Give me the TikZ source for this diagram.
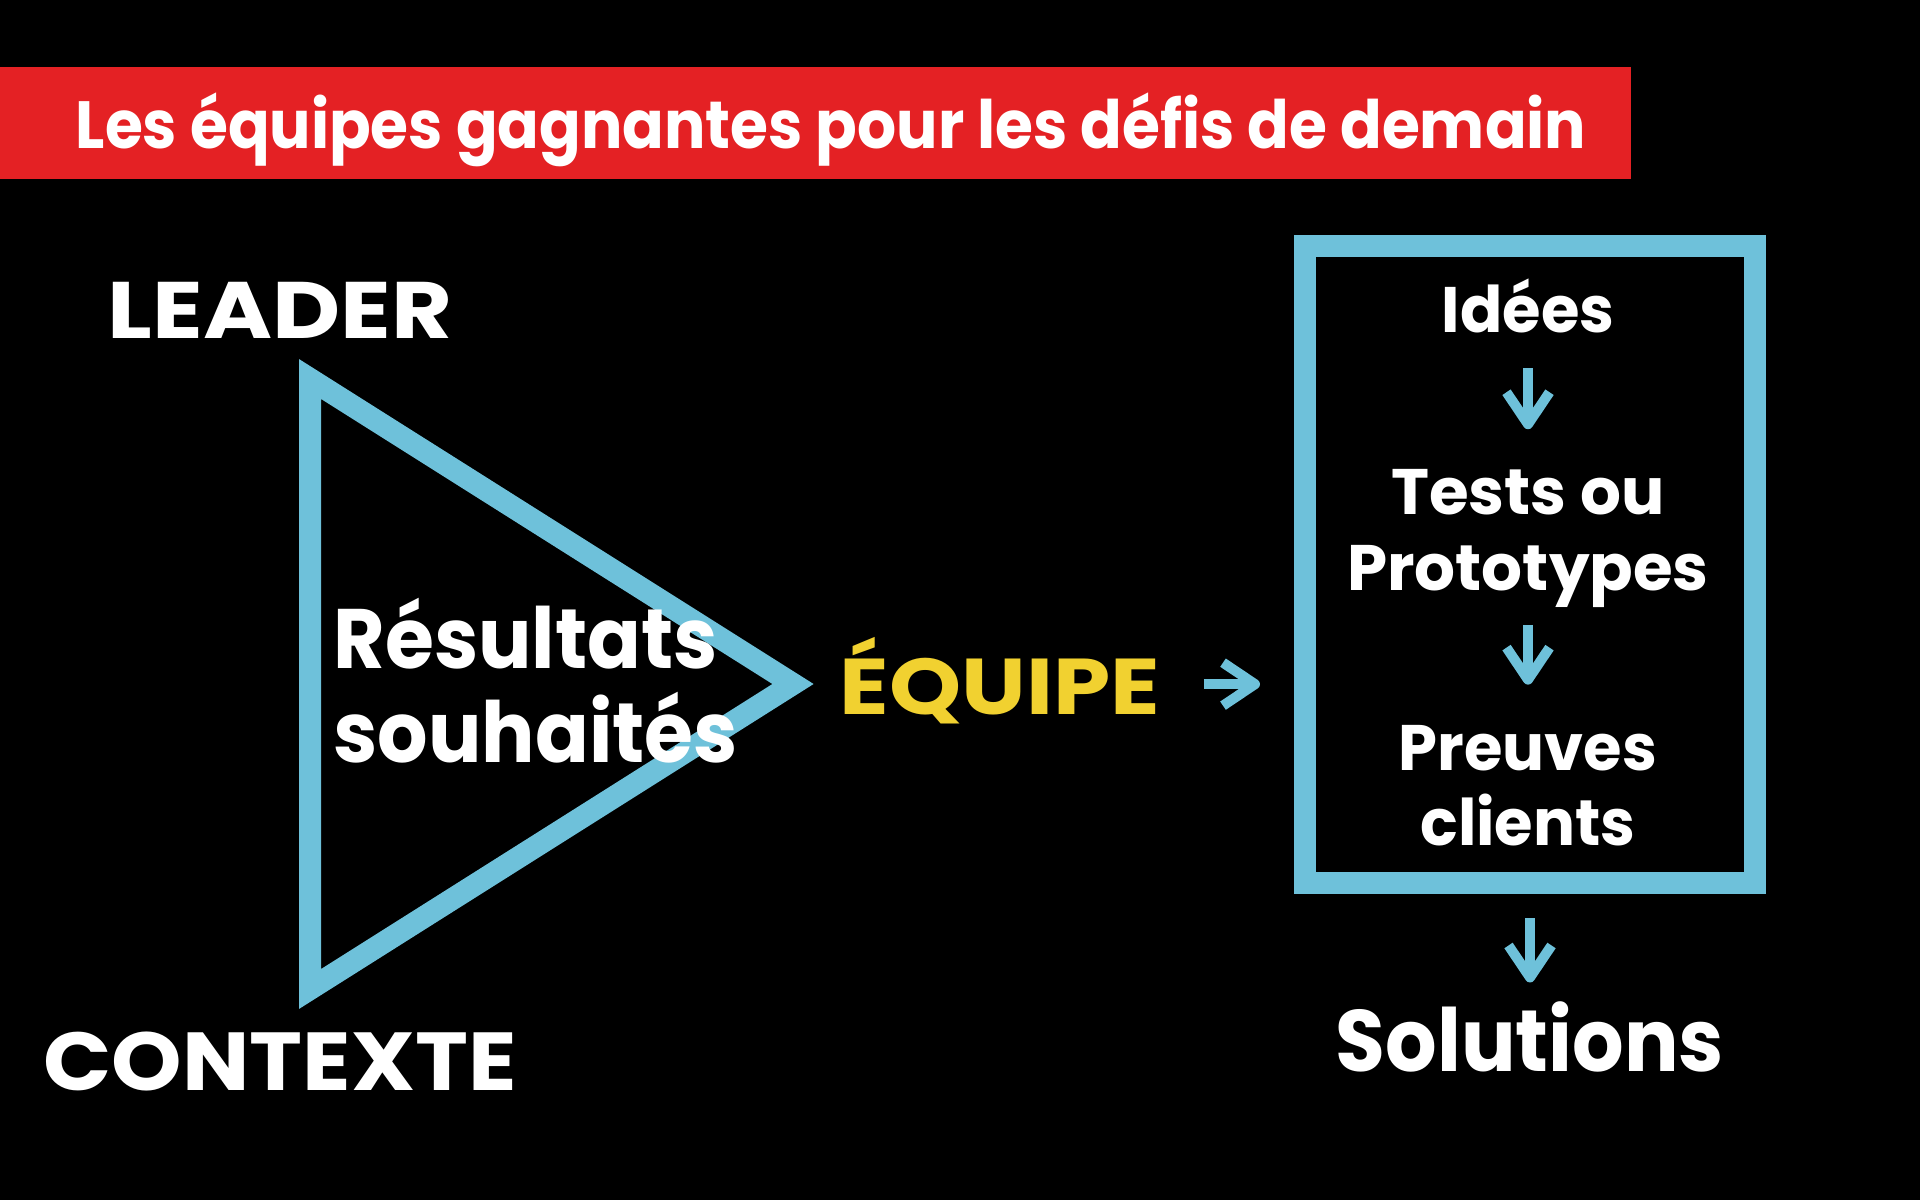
\documentclass[tikz,border=0pt]{standalone}
\usepackage{fontspec}
\setmainfont{Poppins}
\usepackage{xcolor}
\usetikzlibrary{arrows.meta}
\definecolor{BannerRed}{HTML}{E42124}
\definecolor{LineBlue}{HTML}{6EC1DA}
\definecolor{TeamYellow}{HTML}{F1D130}
\tikzset{
  figure/.style={font=\bfseries,text=white,line join=miter},
  frame/.style={draw=LineBlue,line width=0.22cm},
  flow/.style={-{Straight Barb[length=3.2mm,width=4.3mm,line join=round]},line width=0.1cm,draw=LineBlue},
  word/.style={inner sep=0pt,align=center},
}

\begin{document}
\begin{tikzpicture}[figure]
  \fill[black] (0,0) rectangle (19.2,12);
  \useasboundingbox (0,0) rectangle (19.2,12);

  \fill[BannerRed] (0,10.21) rectangle (16.31,11.33);
  \node[word,anchor=base,font=\bfseries\fontsize{19}{24}\selectfont\addfontfeatures{FakeStretch=0.92}] (title) at (8.31,10.51)
    {Les équipes gagnantes pour les défis de demain};

  \node[word,anchor=base,font=\bfseries\fontsize{22.8}{27}\selectfont\addfontfeatures{FakeStretch=1.17}] (leader) at (2.80,8.61) {LEADER};
  \node[word,anchor=base,font=\bfseries\fontsize{23.4}{27}\selectfont\addfontfeatures{FakeStretch=1.09}] (context) at (2.80,1.10) {CONTEXTE};

  \draw[frame] (3.10,8.21) -- (7.93,5.16) -- (3.10,2.11) -- cycle;
  \node[word,anchor=base west,align=left,font=\bfseries\fontsize{24}{26.7}\selectfont\addfontfeatures{FakeStretch=0.94}] (wanted) at (3.33,4.38)
    {Résultats\\souhaités};

  \node[word,anchor=base,text=TeamYellow,font=\bfseries\fontsize{22.5}{27}\selectfont\addfontfeatures{FakeStretch=1.16}] (team) at (10.00,4.86) {ÉQUIPE};

  \node[frame,minimum width=4.5cm,minimum height=6.37cm] (process) at (15.30,6.355) {};
  \node[word,anchor=base,font=\bfseries\fontsize{18.3}{21.6}\selectfont\addfontfeatures{FakeStretch=0.97}] (ideas) at (15.28,8.67) {Idées};
  \node[word,anchor=base,font=\bfseries\fontsize{18.3}{21.6}\selectfont] (tests) at (15.28,6.10) {Tests ou\\Prototypes};
  \node[word,anchor=base,font=\bfseries\fontsize{18.3}{21.2}\selectfont\addfontfeatures{FakeStretch=0.97}] (proofs) at (15.28,3.55) {Preuves\\clients};
  \node[word,anchor=base,font=\bfseries\fontsize{24.8}{29}\selectfont\addfontfeatures{FakeStretch=0.93}] (solutions) at (15.30,1.29) {Solutions};

  \draw[flow,shorten <=0.43cm,shorten >=0.34cm] ([yshift=-0.04cm]team.east) -- ([yshift=-0.04cm]team.east -| process.west);
  \draw[flow,shorten <=0.34cm,shorten >=0.39cm] (ideas) -- (tests);
  \draw[flow,shorten <=0.17cm,shorten >=0.40cm] (tests) -- (proofs);
  \draw[flow,shorten <=0.24cm,shorten >=0.18cm] (process.south) -- (solutions);
\end{tikzpicture}
\end{document}
